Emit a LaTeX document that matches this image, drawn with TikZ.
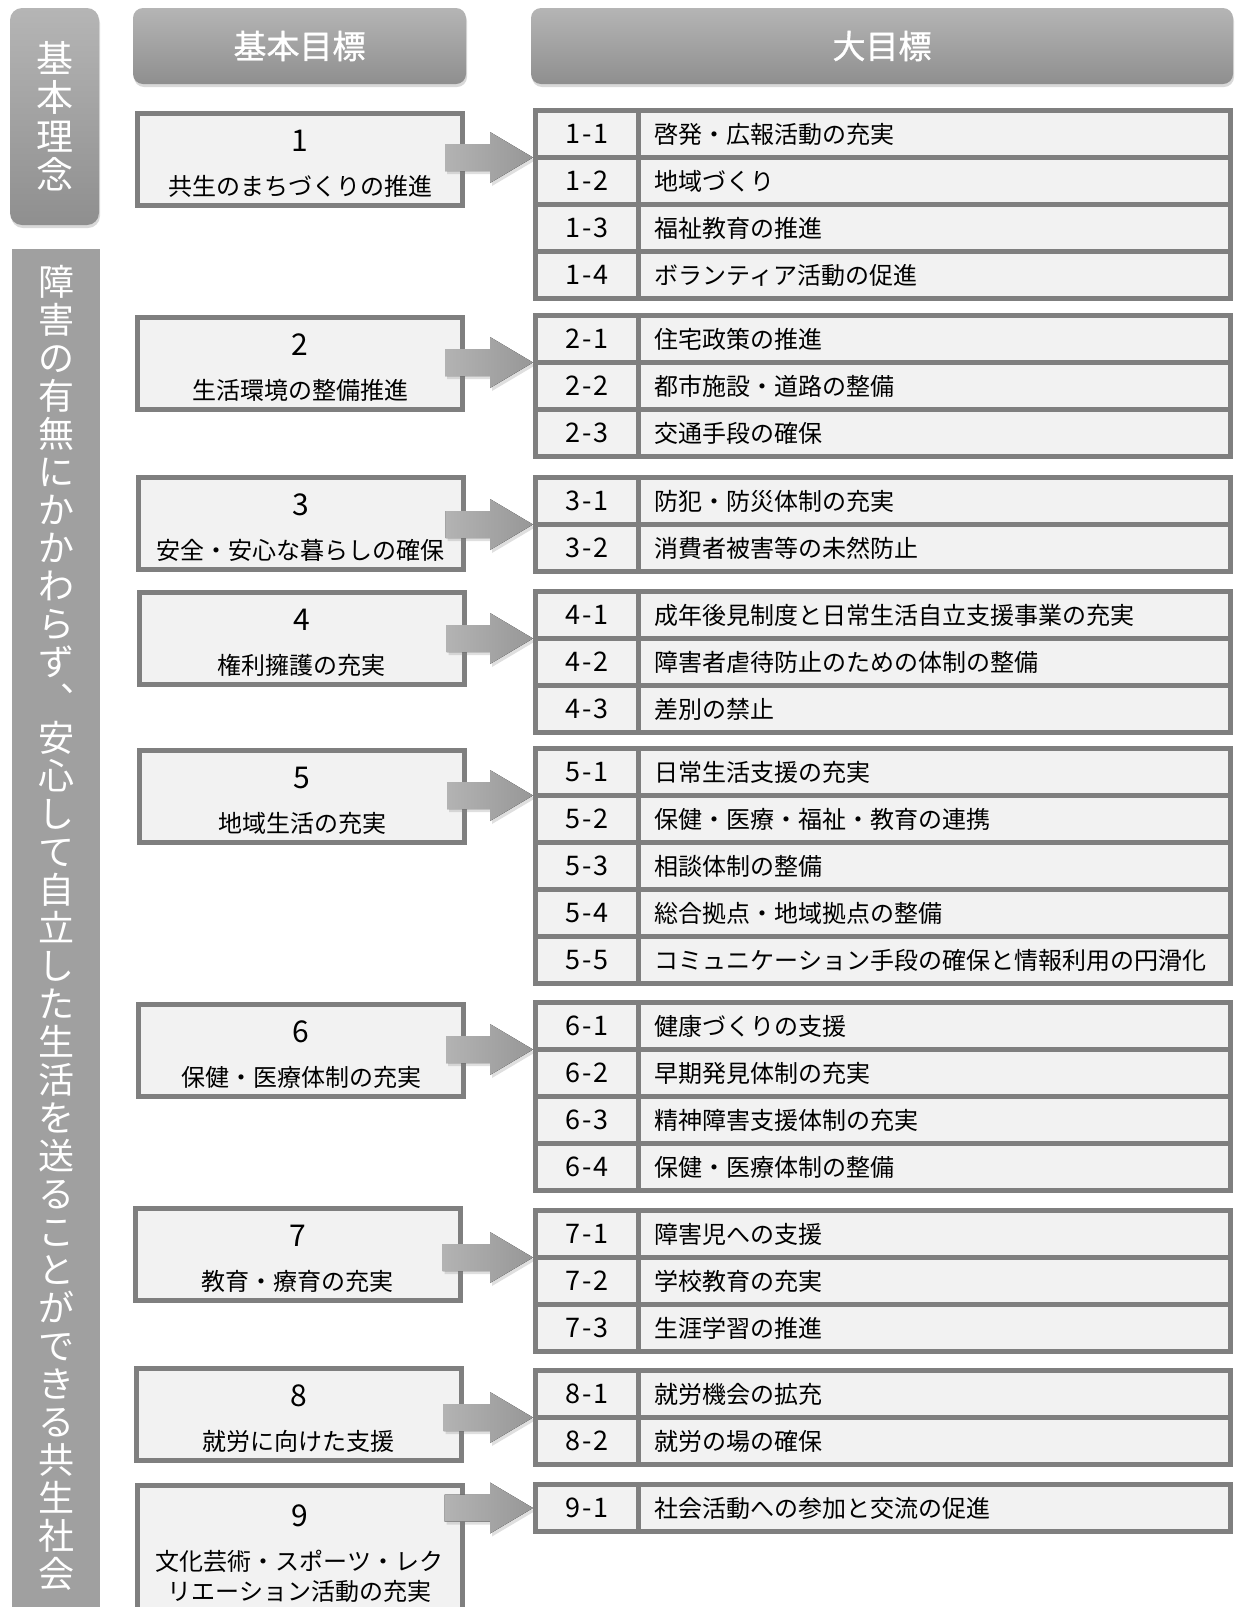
\documentclass[tikz,border=0pt]{standalone}
\usepackage{fontspec}
\setmainfont{Noto Sans CJK JP}
\newfontfamily\headfont[FakeBold=1]{Noto Sans CJK JP}
\usepackage{tikz}
\usetikzlibrary{positioning, shadows, calc}

\definecolor{rulegray}{HTML}{7F7F7F}
\definecolor{cellgray}{HTML}{F2F2F2}
\definecolor{bandgray}{HTML}{A0A0A0}
\definecolor{toplight}{HTML}{B5B5B5}
\definecolor{botdark}{HTML}{8F8F8F}
\definecolor{arrowlight}{HTML}{B3B3B3}
\definecolor{arrowdark}{HTML}{979797}

% number line of a basic goal box
\newcommand\goalno[1]{{\fontsize{30}{30}\selectfont\rule{0pt}{30pt}#1}}
% number of a major goal
\newcommand\subno[2]{#1\kern2pt-\kern2pt#2}

\begin{document}
\begin{tikzpicture}[x=1pt, y=-1pt,
    header/.style={rounded corners=10pt, top color=toplight, bottom color=botdark, text=white, inner sep=0pt,
        drop shadow={shadow xshift=1pt, shadow yshift=-3pt, opacity=.3}},
    goal/.style={draw=rulegray, line width=5pt, fill=cellgray, minimum width=325pt, minimum height=92pt,
        inner sep=0pt, outer sep=0pt, align=center, font=\fontsize{24}{30}\selectfont},
    numcell/.style={draw=rulegray, line width=5pt, fill=cellgray, minimum width=103pt, minimum height=47pt,
        inner sep=0pt, outer sep=0pt, text height=21pt, text depth=2pt, font=\fontsize{27}{27}\selectfont},
    textcell/.style={numcell, anchor=west, text width=560pt, inner xsep=16pt, align=left,
        font=\fontsize{24}{24}\selectfont},
    bigarrow/.style={left color=arrowlight, right color=arrowdark,
        drop shadow={shadow xshift=2pt, shadow yshift=-3pt, opacity=.25}}]

    \useasboundingbox (0,0) rectangle (1235,1607);

    % side bands
    \node[header, rounded corners=12pt, minimum width=89pt, minimum height=217pt, align=center,
        font=\fontsize{37}{38.7}\selectfont] (idea) at (54.5,116.5) {基\\本\\理\\念};
    \node[fill=bandgray, minimum width=88pt, minimum height=1358pt, inner sep=0pt, text=white, align=center,
        font=\fontsize{36}{38}\selectfont] (society) at (56,928)
        {障\\害\\の\\有\\無\\に\\か\\か\\わ\\ら\\ず\\︑\\安\\心\\し\\て\\自\\立\\し\\た\\生\\活\\を\\送\\る\\こ\\と\\が\\で\\き\\る\\共\\生\\社\\会};

    % headers
    \node[header, minimum width=333pt, minimum height=76pt, font=\headfont\fontsize{33}{33}\selectfont] (hbasic) at (299.5,46) {基本目標};
    \node[header, minimum width=702pt, minimum height=76pt, font=\headfont\fontsize{33}{33}\selectfont] (hmajor) at (882,46) {大目標};

    % major goals
    \foreach \lab [count=\r] in {啓発・広報活動の充実,地域づくり,福祉教育の推進,ボランティア活動の促進} {
        \node[numcell] (n1\r) at (587,{134+47*(\r-1)}) {\subno{1}{\r}};
        \node[textcell, right=0pt of n1\r] (t1\r) {\lab};
    }
    \foreach \lab [count=\r] in {住宅政策の推進,都市施設・道路の整備,交通手段の確保} {
        \node[numcell] (n2\r) at (587,{339+47*(\r-1)}) {\subno{2}{\r}};
        \node[textcell, right=0pt of n2\r] (t2\r) {\lab};
    }
    \foreach \lab [count=\r] in {防犯・防災体制の充実,消費者被害等の未然防止} {
        \node[numcell] (n3\r) at (587,{501+47*(\r-1)}) {\subno{3}{\r}};
        \node[textcell, right=0pt of n3\r] (t3\r) {\lab};
    }
    \foreach \lab [count=\r] in {成年後見制度と日常生活自立支援事業の充実,障害者虐待防止のための体制の整備,差別の禁止} {
        \node[numcell] (n4\r) at (587,{615+47*(\r-1)}) {\subno{4}{\r}};
        \node[textcell, right=0pt of n4\r] (t4\r) {\lab};
    }
    \foreach \lab [count=\r] in {日常生活支援の充実,保健・医療・福祉・教育の連携,相談体制の整備,総合拠点・地域拠点の整備,コミュニケーション手段の確保と情報利用の円滑化} {
        \node[numcell] (n5\r) at (587,{772+47*(\r-1)}) {\subno{5}{\r}};
        \node[textcell, right=0pt of n5\r] (t5\r) {\lab};
    }
    \foreach \lab [count=\r] in {健康づくりの支援,早期発見体制の充実,精神障害支援体制の充実,保健・医療体制の整備} {
        \node[numcell] (n6\r) at (587,{1026+47*(\r-1)}) {\subno{6}{\r}};
        \node[textcell, right=0pt of n6\r] (t6\r) {\lab};
    }
    \foreach \lab [count=\r] in {障害児への支援,学校教育の充実,生涯学習の推進} {
        \node[numcell] (n7\r) at (587,{1234+47*(\r-1)}) {\subno{7}{\r}};
        \node[textcell, right=0pt of n7\r] (t7\r) {\lab};
    }
    \foreach \lab [count=\r] in {就労機会の拡充,就労の場の確保} {
        \node[numcell] (n8\r) at (587,{1394+47*(\r-1)}) {\subno{8}{\r}};
        \node[textcell, right=0pt of n8\r] (t8\r) {\lab};
    }
    \node[numcell] (n91) at (587,1508) {\subno{9}{1}};
    \node[textcell, right=0pt of n91] (t91) {社会活動への参加と交流の促進};

    % basic goals
    \node[goal] (b1) at (300,159.5) {\goalno{1}\\[14pt]共生のまちづくりの推進};
    \node[goal] (b2) at (300,363.5) {\goalno{2}\\[14pt]生活環境の整備推進};
    \node[goal] (b3) at (300.5,523.5) {\goalno{3}\\[14pt]安全・安心な暮らしの確保};
    \node[goal] (b4) at (301.5,638.5) {\goalno{4}\\[14pt]権利擁護の充実};
    \node[goal] (b5) at (302,796.5) {\goalno{5}\\[14pt]地域生活の充実};
    \node[goal] (b6) at (301,1050.5) {\goalno{6}\\[14pt]保健・医療体制の充実};
    \node[goal] (b7) at (297.5,1254.5) {\goalno{7}\\[14pt]教育・療育の充実};
    \node[goal] (b8) at (298.5,1414.5) {\goalno{8}\\[14pt]就労に向けた支援};
    \node[goal, minimum height=136pt] (b9) at (299.5,1553.5)
        {{\fontsize{30}{30}\selectfont 9}\\[14pt]文化芸術・スポーツ・レク\\リエーション活動の充実};

    % arrows
    \foreach \i/\a in {1/south west,2/south west,3/south west,4/south west,5/south west,
                       6/south west,7/south west,8/south west,9/west} {
        \coordinate (tip\i) at ([xshift=-2.5pt]n\i1.\a);
        \fill[bigarrow] (tip\i) -- ++(-43,-25.5) -- ++(0,12) -- ($(tip\i -| b\i.east)+(-17.5,-13.5)$)
            -- ++(0,27) -- ($(tip\i)+(-43,13.5)$) -- ++(0,12) -- cycle;
    }
\end{tikzpicture}
\end{document}
